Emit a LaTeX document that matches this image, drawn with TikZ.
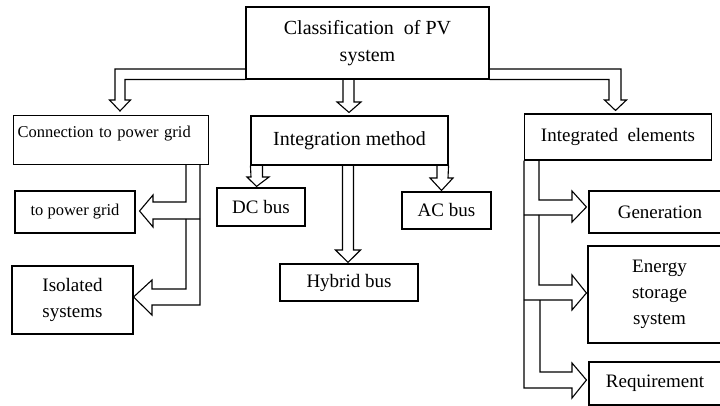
\documentclass[tikz,border=0pt]{standalone}
\usepackage{fontspec}
\setmainfont{Liberation Serif}
\usetikzlibrary{calc}

\tikzset{
  blockbox/.style={draw, rectangle, inner sep=0pt, align=center,
    font=\fontsize{19}{26}\selectfont},
  bigbox/.style={blockbox, font=\fontsize{20}{27}\selectfont},
  smallbox/.style={blockbox, font=\fontsize{16.5}{22}\selectfont},
}

\begin{document}
\begin{tikzpicture}[x=1pt, y=-1pt, line width=1.1pt, line join=miter]
    \useasboundingbox (0,0) rectangle (720,406);
    \clip (0,0) rectangle (720,406);

    % Riquadro principale
    \node[bigbox, minimum width=243pt, minimum height=72pt] (cls) at (367.5,43) {Classification\ \ of PV\\system};

    % Tre categorie
    \node[smallbox, anchor=north west, align=left, text width=187pt, inner xsep=4pt,
          text height=21.7pt, text depth=27.3pt] (grid) at (13,115) {Connection to power grid};
    \node[bigbox, minimum width=197pt, minimum height=49pt] (integ) at (349.5,140.5) {Integration method};
    \node[blockbox, minimum width=187pt, minimum height=46pt] (elem) at (618,137) {Integrated\ \ elements};

    % Sottocategorie
    \node[smallbox, minimum width=120pt, minimum height=42pt] (ongrid) at (75,212) {to power grid};
    \node[blockbox, minimum width=121pt, minimum height=68pt] (isol) at (72.5,300) {Isolated\\systems};
    \node[blockbox, minimum width=88pt, minimum height=38pt] (dc) at (261,207) {DC bus};
    \node[blockbox, minimum width=138pt, minimum height=37pt] (hyb) at (349,282.5) {Hybrid bus};
    \node[blockbox, minimum width=89pt, minimum height=37pt] (ac) at (446.5,210.5) {AC bus};
    \node[blockbox, minimum width=142pt, minimum height=42pt] (gen) at (660,212) {Generation};
    \node[blockbox, minimum width=143pt, minimum height=97pt] (ess) at (659.5,294.5) {Energy\\storage\\system};
    \node[blockbox, minimum width=132pt, minimum height=43pt] (req) at (655,383.5) {Requirement};

    % Frecce dal riquadro principale
    \draw (cls.south west |- 0,69) -| (115,100) -- (109.5,100) -- ($(grid.north -| 120,0)+(0,-4)$)
        -- (130.5,100) -- (125,100) |- (cls.south west);
    \draw (cls.south -| 343,0) -- (343,102) -- (337,102) -- ($(integ.north -| 349,0)+(0,-3)$)
        -- (361,102) -- (354,102) -- (cls.south -| 354,0);
    \draw (cls.south east |- 0,69) -| (621,100) -- (626.5,100) -- ($(elem.north -| 615.5,0)+(0,-3)$)
        -- (604.5,100) -- (609,100) |- (cls.south east);

    % Frecce verso la rete
    \draw (grid.south -| 186,0) |- (153,202) -- (153,195) -- ($(ongrid.east |- 0,211)+(4,0)$)
        -- (153,227) -- (153,219) -- (200,219);
    \draw (grid.south -| 200,0) |- (152,305) -- (152,315) -- (isol.east |- 0,297)
        -- (152,280) -- (152,289) -| (186,219);

    % Frecce verso i bus
    \draw (integ.south west) -- (251,177) -- (247,177) -- ($(dc.north -| 256.5,0)+(0,-1)$)
        -- (269,177) -- (262.5,177) -- (integ.south -| 262.5,0);
    \draw (integ.south -| 342.5,0) -- (342.5,250) -- (335.5,250) -- ($(hyb.north -| 348,0)+(0,-1)$)
        -- (360.5,250) -- (353.5,250) -- (integ.south -| 353.5,0);
    \draw (integ.south -| 437,0) -- (437,178) -- (430,178) -- ($(ac.north -| 441.5,0)+(0,-1)$)
        -- (453,178) -- (448,178) -- (integ.south east);

    % Frecce verso gli elementi
    \draw (elem.south -| 539,0) |- (572,200) -- (572,191) -- ($(gen.west |- 0,207)+(-2,0)$)
        -- (572,222) -- (572,215) -- (elem.west |- 0,215);
    \draw (539,215) |- (572,285) -- (572,275) -- ($(ess.west |- 0,293)+(-1,0)$)
        -- (572,310) -- (572,300) -- (elem.west |- 0,300);
    \draw (540,300) |- (572,372) -- (572,363) -- ($(req.west |- 0,380)+(-2,0)$)
        -- (572,398) -- (572,388) -| (elem.south west);
\end{tikzpicture}
\end{document}
